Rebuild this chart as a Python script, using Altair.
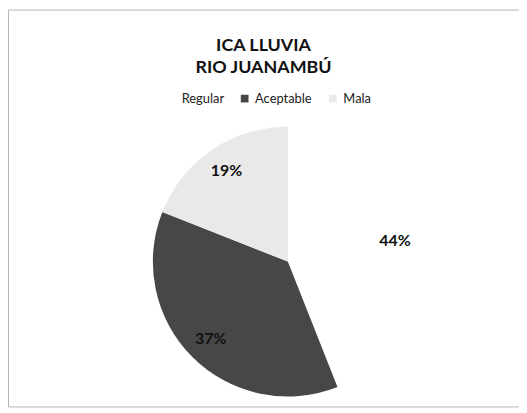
import altair as alt
import pandas as pd

categorias = ["Regular", "Aceptable", "Mala"]
valores = [44, 37, 19]
etiquetas = ["44%", "37%", "19%"]
orden = [0, 1, 2]
colores = ["#ffffff", "#474747", "#e9e9e9"]

df = pd.DataFrame({"categoria": categorias, "valor": valores,
                   "etiqueta": etiquetas, "orden": orden})

FONT = "Lato"
cx, cy = 282, 254

base = alt.Chart(df).encode(
    theta=alt.Theta("valor:Q", stack=True),
    order=alt.Order("orden:Q"),
)

arcs = base.mark_arc(outerRadius=136).encode(
    x=alt.value(cx), y=alt.value(cy),
    color=alt.Color(
        "categoria:N",
        scale=alt.Scale(domain=categorias, range=colores),
        legend=alt.Legend(
            title=None, orient="none", direction="horizontal",
            legendX=158, legendY=83, labelFont=FONT, labelFontSize=13,
            labelColor="#222", symbolType="square", symbolSize=60,
            columnPadding=14, symbolStrokeWidth=0,
        ),
    ),
)

texts = base.mark_text(radius=110, font=FONT, fontSize=16, fontWeight="bold",
                       color="#111").encode(
    x=alt.value(cx), y=alt.value(cy),
    text="etiqueta:N",
)

chart = alt.layer(arcs, texts).properties(
    width=515, height=400,
    title=alt.TitleParams(
        text=["ICA LLUVIA", "RIO JUANAMBÚ"], font=FONT, fontSize=18,
        fontWeight="bold", color="#111", anchor="middle", offset=-68,
        lineHeight=22,
    ),
    autosize=alt.AutoSizeParams(type="none"),
    padding=0,
).configure_view(stroke="#b5b5b5", strokeWidth=1)

chart.save("out.html", embed_options={"renderer": "svg", "actions": False})
